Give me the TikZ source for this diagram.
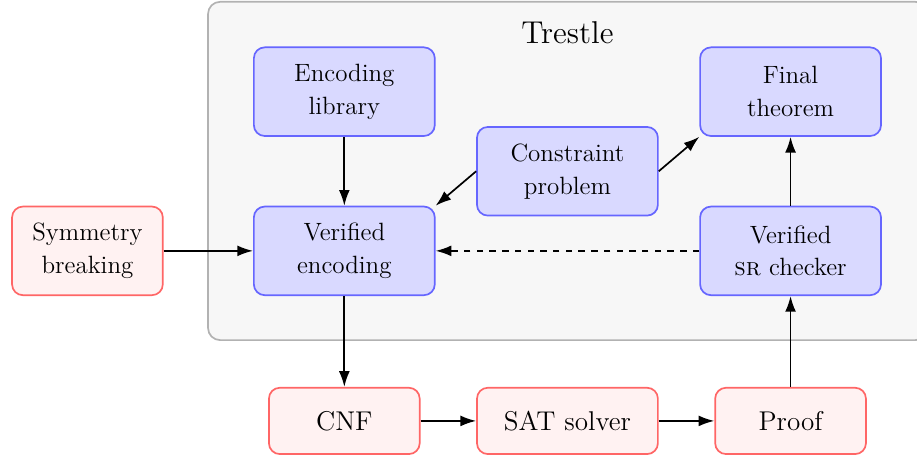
\documentclass[tikz,border=0pt]{standalone}
\usepackage{tikz}
\usetikzlibrary{arrows.meta}
\usepackage{xcolor}

\begin{document}
\begin{tikzpicture}[
		part/.style = {draw=blue!60, fill=blue!15, thick, rounded corners=0.18cm,
			align=center, minimum width=3cm, minimum height=1.47cm,
			font=\fontsize{11.8}{15.5}\selectfont},
		outside/.style = {draw=red!60, fill=red!5, thick, rounded corners=0.18cm,
			align=center, minimum width=2.5cm, minimum height=1.47cm,
			font=\fontsize{11.8}{15.5}\selectfont},
		tool/.style = {outside, minimum height=1.1cm, font=\fontsize{12.8}{15}\selectfont},
		link/.style = {-{Latex[length=2.6mm, width=1.8mm]}, thick}
	]
		\useasboundingbox (0, 0) rectangle (15.207, -7.562);
		% Trestle 框
		\filldraw [fill=black!3, draw=black!30, thick, rounded corners=0.2cm]
		(3.45, -0.03) rectangle (15.38, -5.64);
		\node (trestle) at (9.41, -0.55) {\fontsize{14.9}{17}\selectfont Trestle};
		% 节点
		\node [part] (library) at (5.71, -1.52) {Encoding\\library};
		\node [part] (encoding) at (5.71, -4.16) {Verified\\encoding};
		\node [part] (problem) at (9.41, -2.84) {Constraint\\problem};
		\node [part] (theorem) at (13.11, -1.52) {Final\\theorem};
		\node [part] (checker) at (13.11, -4.16) {Verified\\\textsc{sr} checker};
		\node [outside] (symmetry) at (1.45, -4.16) {Symmetry\\breaking};
		\node [tool] (cnf) at (5.71, -6.98) {CNF};
		\node [tool, minimum width=3cm] (solver) at (9.41, -6.98) {SAT solver};
		\node [tool] (proof) at (13.11, -6.98) {Proof};
		% 箭头
		\draw [link] (symmetry) -- (encoding);
		\draw [link] (library) -- (encoding);
		\draw [link] (problem.west) -- (encoding.north east);
		\draw [link] (problem.east) -- (theorem.south west);
		\draw [link] (checker) -- (theorem);
		\draw [link, dashed] (checker) -- (encoding);
		\draw [link] (encoding) -- (cnf);
		\draw [link] (cnf) -- (solver);
		\draw [link] (solver) -- (proof);
		\draw [link] (proof) -- (checker);
	\end{tikzpicture}
\end{document}
